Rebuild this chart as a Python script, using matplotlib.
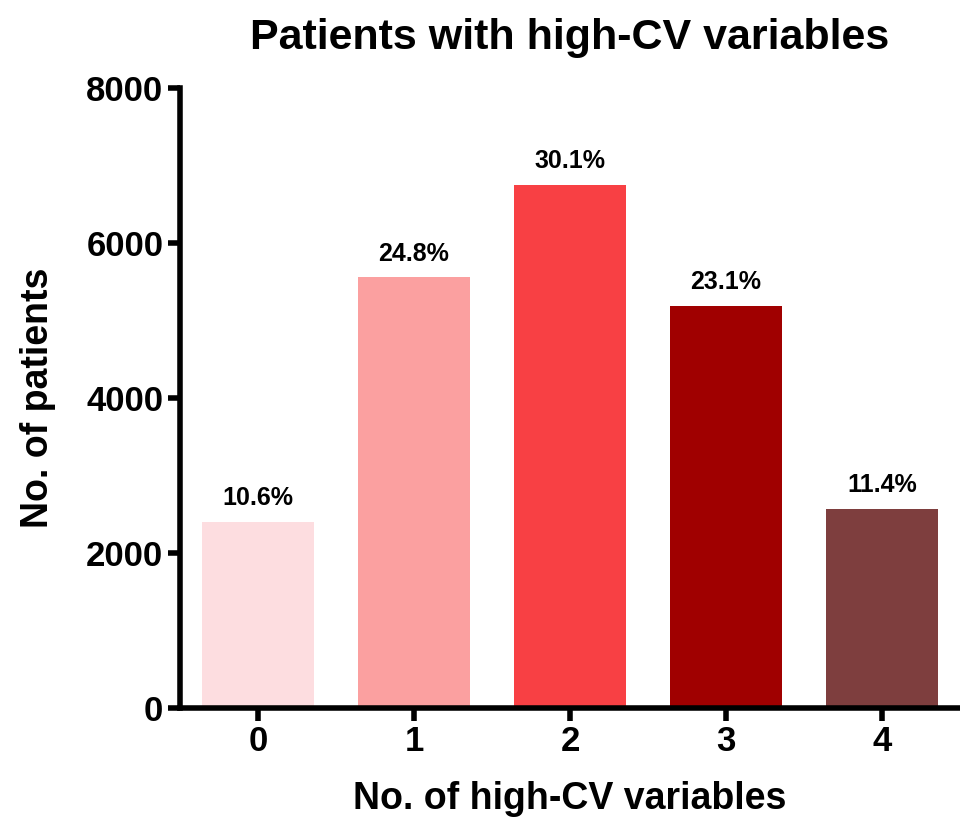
import matplotlib
matplotlib.use("Agg")
import matplotlib.pyplot as plt

categories = ["0", "1", "2", "3", "4"]
patients = [2400, 5560, 6750, 5190, 2570]
pct_labels = ["10.6%", "24.8%", "30.1%", "23.1%", "11.4%"]
colors = ["#FDDDE0", "#FBA0A0", "#F84044", "#A00000", "#7E3E3E"]

plt.rcParams['font.family'] = ['Liberation Sans', 'DejaVu Sans']

fig = plt.figure(figsize=(9.6, 8.22), dpi=100)
ax = fig.add_axes([0.1875, 0.1387, 0.8125, 0.754])

x = list(range(len(categories)))
bars = ax.bar(x, patients, width=0.72, color=colors, edgecolor="none")

for b, lab in zip(bars, pct_labels):
    ax.text(b.get_x() + b.get_width() / 2, b.get_height() + 150, lab,
            ha="center", va="bottom", fontsize=18, fontweight="bold")

ax.set_xlim(-0.5, 4.5)
ax.set_ylim(0, 8000)
ax.set_yticks([0, 2000, 4000, 6000, 8000])
ax.set_xticks(x)
ax.set_xticklabels(categories)

for s in ["top", "right"]:
    ax.spines[s].set_visible(False)
for s in ["left", "bottom"]:
    ax.spines[s].set_linewidth(4)

ax.tick_params(axis="both", width=4, length=9, labelsize=25, pad=3)
for t in ax.get_xticklabels() + ax.get_yticklabels():
    t.set_fontweight("bold")

ax.set_xlabel("No. of high-CV variables", fontsize=27, fontweight="bold", labelpad=17)
ax.set_ylabel("No. of patients", fontsize=27, fontweight="bold", labelpad=22)
ax.set_title("Patients with high-CV variables", fontsize=31, fontweight="bold", pad=28)

fig.savefig("out.png", dpi=100)
